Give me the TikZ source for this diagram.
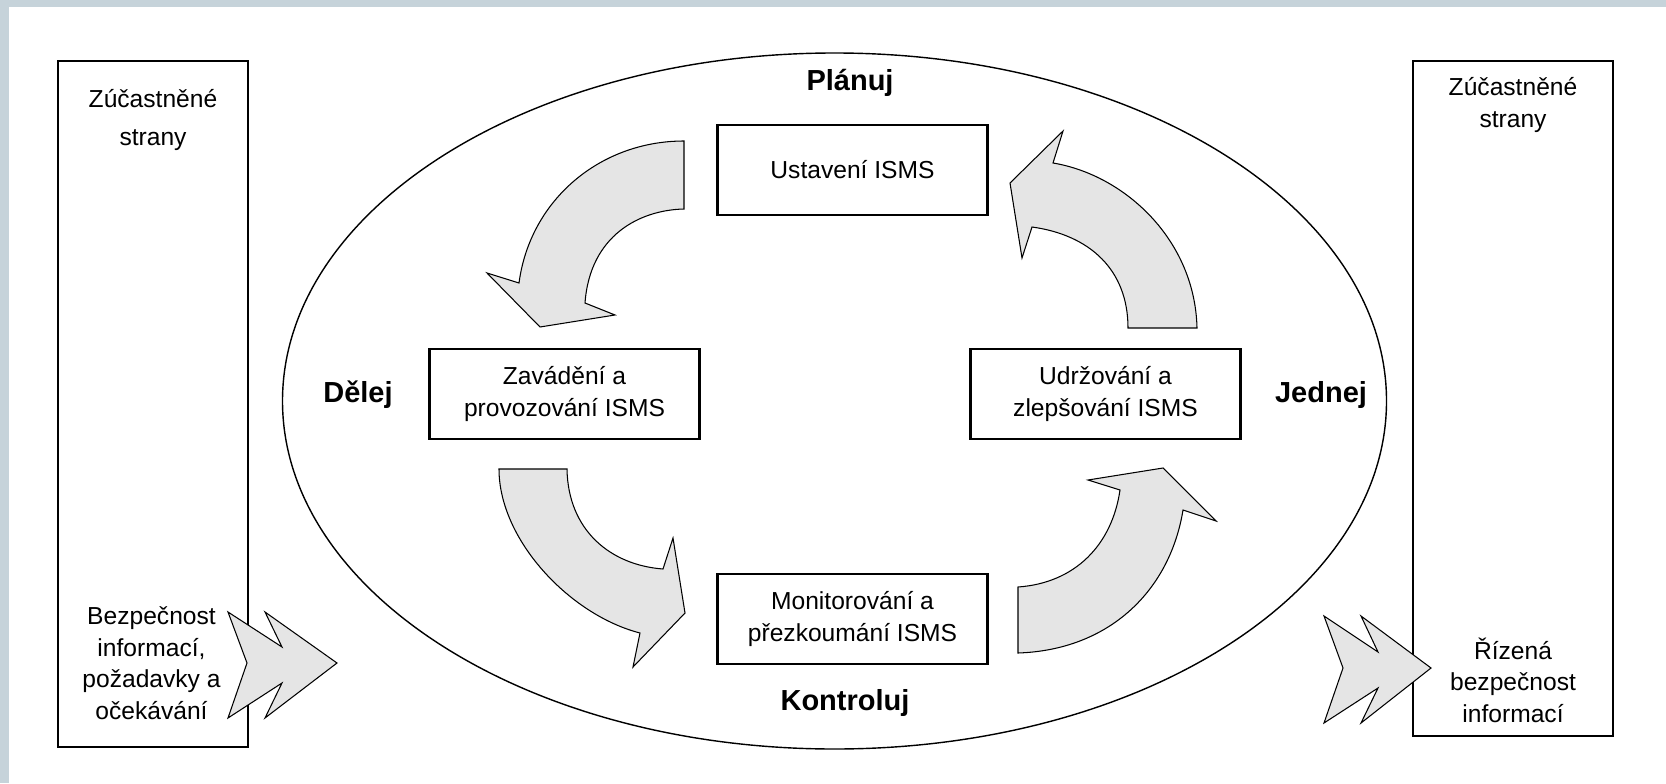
\documentclass[tikz,border=0pt]{standalone}
\usepackage{fontspec}
\setmainfont{Liberation Sans}
\definecolor{framegray}{RGB}{198,211,218}
\definecolor{arrowgray}{RGB}{229,229,229}

\tikzset{
  stagebox/.style={draw, line width=1.2pt, minimum width=5.4cm, minimum height=1.8cm, inner sep=0pt, align=center, font=\fontsize{14}{18}\selectfont},
  phaselabel/.style={font=\fontsize{16.5}{20}\selectfont\bfseries},
  sidetext/.style={align=center, font=\fontsize{14}{18}\selectfont},
  cyclearrow/.style={fill=arrowgray, draw=black, line width=0.6pt, line join=miter},
}

\begin{document}
\begin{tikzpicture}
\useasboundingbox (0,0) rectangle (33.32,15.66);
% Frame
\fill[framegray] (0,15.52) rectangle (33.32,15.66);
\fill[framegray] (0,0) rectangle (0.17,15.66);

% Side boxes
\draw[line width=1.2pt] (1.16,0.72) rectangle (4.96,14.44);
\draw[line width=1.2pt] (28.26,0.94) rectangle (32.26,14.44);

% Big ellipse
\draw[line width=0.8pt] (16.69,7.64) ellipse (11.04 and 6.96);

% Stage boxes
\node[stagebox] (ustaveni) at (17.05,12.26) {Ustavení ISMS};
\node[stagebox] (zavadeni) at (11.29,7.78) {Zavádění a\\provozování ISMS};
\node[stagebox] (udrzovani) at (22.11,7.78) {Udržování a\\zlepšování ISMS};
\node[stagebox] (monitor) at (17.05,3.28) {Monitorování a\\přezkoumání ISMS};

% Phase labels
\node[phaselabel] (planuj) at (17.0,14.0) {Plánuj};
\node[phaselabel] (delej) at (7.16,7.76) {Dělej};
\node[phaselabel] (jednej) at (26.42,7.76) {Jednej};
\node[phaselabel] (kontroluj) at (16.9,1.6) {Kontroluj};

% Curved arrows - top left (Plan to Do)
\draw[cyclearrow] (13.68,12.84) -- (13.68,11.48)
  .. controls (12.80,11.46) and (11.80,10.96) .. (11.70,9.60)
  -- (12.30,9.36) -- (10.80,9.12) -- (9.74,10.20) -- (10.38,10.00)
  .. controls (10.60,11.66) and (12.00,12.84) .. cycle;

% bottom left (Do to Check)
\draw[cyclearrow] (9.98,6.28) -- (11.34,6.28)
  .. controls (11.36,5.06) and (12.20,4.36) .. (13.26,4.28)
  -- (13.46,4.90) -- (13.70,3.40) -- (12.66,2.32) -- (12.80,3.00)
  .. controls (11.40,3.36) and (9.98,4.86) .. cycle;

% bottom right (Check to Act)
\draw[cyclearrow] (20.36,3.92) -- (20.36,2.60)
  .. controls (22.20,2.66) and (23.40,3.86) .. (23.66,5.46)
  -- (24.32,5.24) -- (23.26,6.30) -- (21.76,6.06) -- (22.40,5.86)
  .. controls (22.24,4.76) and (21.50,4.00) .. cycle;

% top right (Act to Plan)
\draw[cyclearrow] (22.56,9.10) -- (23.94,9.10)
  .. controls (23.90,10.86) and (22.50,12.16) .. (21.06,12.40)
  -- (21.26,13.04) -- (20.20,12.00) -- (20.44,10.50) -- (20.64,11.12)
  .. controls (21.80,10.96) and (22.56,10.26) .. cycle;

% Input / output arrows
\draw[cyclearrow] (4.56,3.42) -- (5.64,2.72) -- (5.30,3.42) -- (6.74,2.40)
  -- (5.30,1.30) -- (5.64,2.00) -- (4.56,1.30) -- (4.94,2.40) -- cycle;
\draw[cyclearrow] (26.48,3.34) -- (27.56,2.62) -- (27.22,3.34) -- (28.62,2.30)
  -- (27.22,1.20) -- (27.56,1.90) -- (26.48,1.20) -- (26.86,2.30) -- cycle;

% Side texts
\node[sidetext, font=\fontsize{14}{21.5}\selectfont] (stranyL) at (3.06,13.26) {Zúčastněné\\strany};
\node[sidetext] (stranyR) at (30.26,13.56) {Zúčastněné\\strany};
\node[sidetext] (vstup) at (3.03,2.40) {Bezpečnost\\informací,\\požadavky a\\očekávání};
\node[sidetext] (vystup) at (30.26,2.06) {Řízená\\bezpečnost\\informací};
\end{tikzpicture}
\end{document}
